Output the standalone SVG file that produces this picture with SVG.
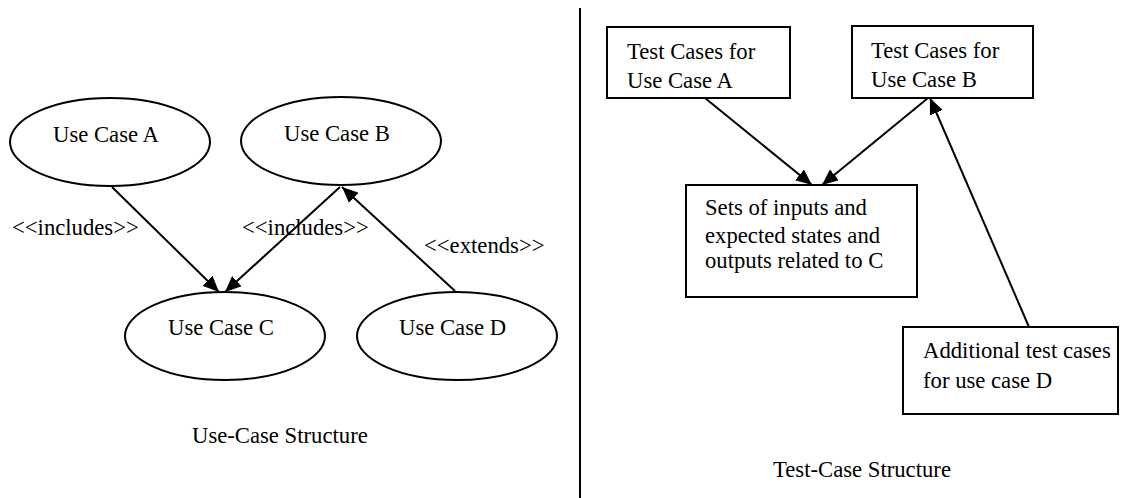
<svg xmlns="http://www.w3.org/2000/svg" width="1127" height="498" viewBox="0 0 1127 498">
<style>
.n{fill:#fff;stroke:#000;stroke-width:2}
.t{font-family:"Liberation Serif","Times New Roman",serif;font-size:22.7px;fill:#000}
.c{stroke:#000;stroke-width:2;fill:none;marker-end:url(#ah)}
</style>
<defs>
<marker id="ah" markerUnits="userSpaceOnUse" markerWidth="16" markerHeight="14" viewBox="0 0 16 14" refX="16" refY="7" orient="auto">
<path d="M0,0 L16,7 L0,14 Z" fill="#000"/>
</marker>
</defs>
<rect width="1127" height="498" fill="#fff"/>
<line x1="580" y1="8" x2="580" y2="498" stroke="#000" stroke-width="2"/>
<g id="connectors">
<line class="c" x1="112" y1="187" x2="219" y2="292"/>
<line class="c" x1="340" y1="187" x2="225" y2="292"/>
<line class="c" x1="455" y1="291" x2="342" y2="187"/>
<line class="c" x1="705" y1="98" x2="812" y2="185"/>
<line class="c" x1="928" y1="98" x2="822" y2="185"/>
<line class="c" x1="1029" y1="327" x2="930" y2="98"/>
</g>
<g id="labels">
<text class="t" x="12" y="235">&lt;&lt;includes&gt;&gt;</text>
<text class="t" x="242" y="235">&lt;&lt;includes&gt;&gt;</text>
<text class="t" x="424" y="253">&lt;&lt;extends&gt;&gt;</text>
<text class="t" x="192" y="443">Use-Case Structure</text>
<text class="t" x="773" y="477">Test-Case Structure</text>
</g>
<g id="ucA"><ellipse class="n" cx="110" cy="142" rx="100" ry="44"/><text class="t" x="53" y="142">Use Case A</text></g>
<g id="ucB"><ellipse class="n" cx="341" cy="141" rx="100" ry="44"/><text class="t" x="284" y="141">Use Case B</text></g>
<g id="ucC"><ellipse class="n" cx="225" cy="336" rx="100" ry="44"/><text class="t" x="168" y="335">Use Case C</text></g>
<g id="ucD"><ellipse class="n" cx="457" cy="336" rx="100" ry="44"/><text class="t" x="399" y="335">Use Case D</text></g>
<g id="tcA"><rect class="n" x="607" y="27" width="183" height="71"/><text class="t" x="627" y="59">Test Cases for</text><text class="t" x="627" y="88">Use Case A</text></g>
<g id="tcB"><rect class="n" x="852" y="26" width="181" height="72"/><text class="t" x="871" y="58">Test Cases for</text><text class="t" x="871" y="87">Use Case B</text></g>
<g id="tcC"><rect class="n" x="686" y="185" width="231" height="112"/><text class="t" x="705" y="215">Sets of inputs and</text><text class="t" x="705" y="243">expected states and</text><text class="t" x="705" y="268">outputs related to C</text></g>
<g id="tcD"><rect class="n" x="903" y="327" width="215" height="87"/><text class="t" x="923" y="358">Additional test cases</text><text class="t" x="923" y="388">for use case D</text></g>
</svg>
